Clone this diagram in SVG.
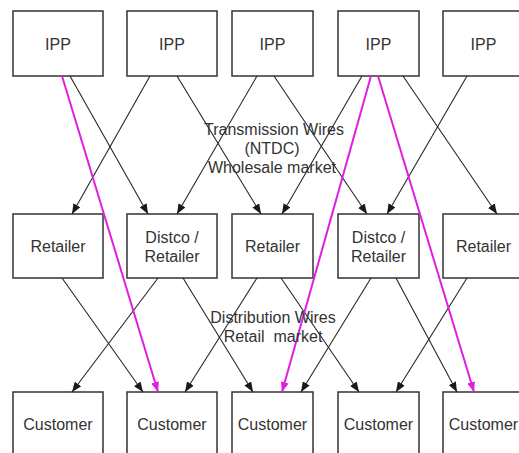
<svg xmlns="http://www.w3.org/2000/svg" width="519" height="453" viewBox="0 0 519 453">
  <style>
    .box { fill: #ffffff; stroke: #333333; stroke-width: 1.5; }
    .lbl { font-family: "Liberation Sans", Arial, sans-serif; font-size: 16px; fill: #333333; text-anchor: middle; }
    .note { font-family: "Liberation Sans", Arial, sans-serif; font-size: 16px; fill: #333333; text-anchor: middle; }
    .wire { stroke: #262626; stroke-width: 1.1; fill: none; marker-end: url(#arr); }
    .path { stroke: #e01ee0; stroke-width: 2; fill: none; marker-end: url(#arrM); }
  </style>
  <defs>
    <marker id="arr" markerUnits="userSpaceOnUse" markerWidth="10" markerHeight="8" viewBox="0 0 10 8" refX="10" refY="4" orient="auto">
      <path d="M0,0 L10,4 L0,8 z" fill="#1a1a1a"/>
    </marker>
    <marker id="arrM" markerUnits="userSpaceOnUse" markerWidth="10" markerHeight="8" viewBox="0 0 10 8" refX="10" refY="4" orient="auto">
      <path d="M0,0 L10,4 L0,8 z" fill="#e01ee0"/>
    </marker>
  </defs>
  <rect width="519" height="453" fill="#ffffff"/>

  <!-- generators -->
  <g id="ipp1"><rect class="box" x="13" y="11" width="90" height="65"/><text class="lbl" x="58" y="50">IPP</text></g>
  <g id="ipp2"><rect class="box" x="127" y="11" width="90" height="65"/><text class="lbl" x="172" y="50">IPP</text></g>
  <g id="ipp3"><rect class="box" x="232" y="11" width="81" height="65"/><text class="lbl" x="272.5" y="50">IPP</text></g>
  <g id="ipp4"><rect class="box" x="338" y="11" width="81" height="65"/><text class="lbl" x="378.5" y="50">IPP</text></g>
  <g id="ipp5"><rect class="box" x="443" y="11" width="81" height="65"/><text class="lbl" x="483.5" y="50">IPP</text></g>

  <!-- retailers / distcos -->
  <g id="retailer1"><rect class="box" x="13" y="214" width="90" height="64"/><text class="lbl" x="58" y="252">Retailer</text></g>
  <g id="distco1"><rect class="box" x="127" y="214" width="90" height="64"/><text class="lbl" x="172" y="243">Distco /</text><text class="lbl" x="172" y="262">Retailer</text></g>
  <g id="retailer2"><rect class="box" x="232" y="214" width="81" height="64"/><text class="lbl" x="272.5" y="252">Retailer</text></g>
  <g id="distco2"><rect class="box" x="338" y="214" width="81" height="64"/><text class="lbl" x="378.5" y="243">Distco /</text><text class="lbl" x="378.5" y="262">Retailer</text></g>
  <g id="retailer3"><rect class="box" x="443" y="214" width="81" height="64"/><text class="lbl" x="483.5" y="252">Retailer</text></g>

  <!-- customers -->
  <g id="customer1"><rect class="box" x="13" y="392" width="90" height="65"/><text class="lbl" x="58" y="430">Customer</text></g>
  <g id="customer2"><rect class="box" x="127" y="392" width="90" height="65"/><text class="lbl" x="172" y="430">Customer</text></g>
  <g id="customer3"><rect class="box" x="232" y="392" width="81" height="65"/><text class="lbl" x="272.5" y="430">Customer</text></g>
  <g id="customer4"><rect class="box" x="338" y="392" width="81" height="65"/><text class="lbl" x="378.5" y="430">Customer</text></g>
  <g id="customer5"><rect class="box" x="443" y="392" width="81" height="65"/><text class="lbl" x="483.5" y="430">Customer</text></g>

  <!-- connectors -->
  <g id="connectors">
    <!-- transmission level -->
    <line class="wire" x1="70" y1="76" x2="148" y2="214"/>
    <line class="wire" x1="150" y1="76" x2="72" y2="214"/>
    <line class="wire" x1="177" y1="76" x2="261" y2="214"/>
    <line class="wire" x1="257" y1="76" x2="177" y2="214"/>
    <line class="wire" x1="274" y1="76" x2="367" y2="214"/>
    <line class="wire" x1="362" y1="76" x2="282" y2="214"/>
    <line class="wire" x1="403" y1="76" x2="497" y2="214"/>
    <line class="wire" x1="467" y1="76" x2="387" y2="214"/>
    <!-- distribution level -->
    <line class="wire" x1="62" y1="278" x2="143" y2="392"/>
    <line class="wire" x1="158" y1="278" x2="72" y2="392"/>
    <line class="wire" x1="183" y1="278" x2="253" y2="392"/>
    <line class="wire" x1="257" y1="278" x2="185" y2="392"/>
    <line class="wire" x1="281" y1="278" x2="359" y2="392"/>
    <line class="wire" x1="371" y1="278" x2="301" y2="392"/>
    <line class="wire" x1="396" y1="278" x2="457" y2="392"/>
    <line class="wire" x1="467" y1="278" x2="396" y2="392"/>
    <!-- direct supply paths -->
    <line class="path" x1="62" y1="76" x2="158" y2="392"/>
    <line class="path" x1="371" y1="76" x2="282" y2="392"/>
    <line class="path" x1="378" y1="76" x2="474" y2="392"/>
  </g>

  <!-- market labels -->
  <text class="note" x="274" y="135">Transmission Wires</text>
  <text class="note" x="272" y="154">(NTDC)</text>
  <text class="note" x="272" y="173">Wholesale market</text>
  <text class="note" x="273" y="323">Distribution Wires</text>
  <text class="note" x="273" y="342" xml:space="preserve">Retail  market</text>
</svg>
